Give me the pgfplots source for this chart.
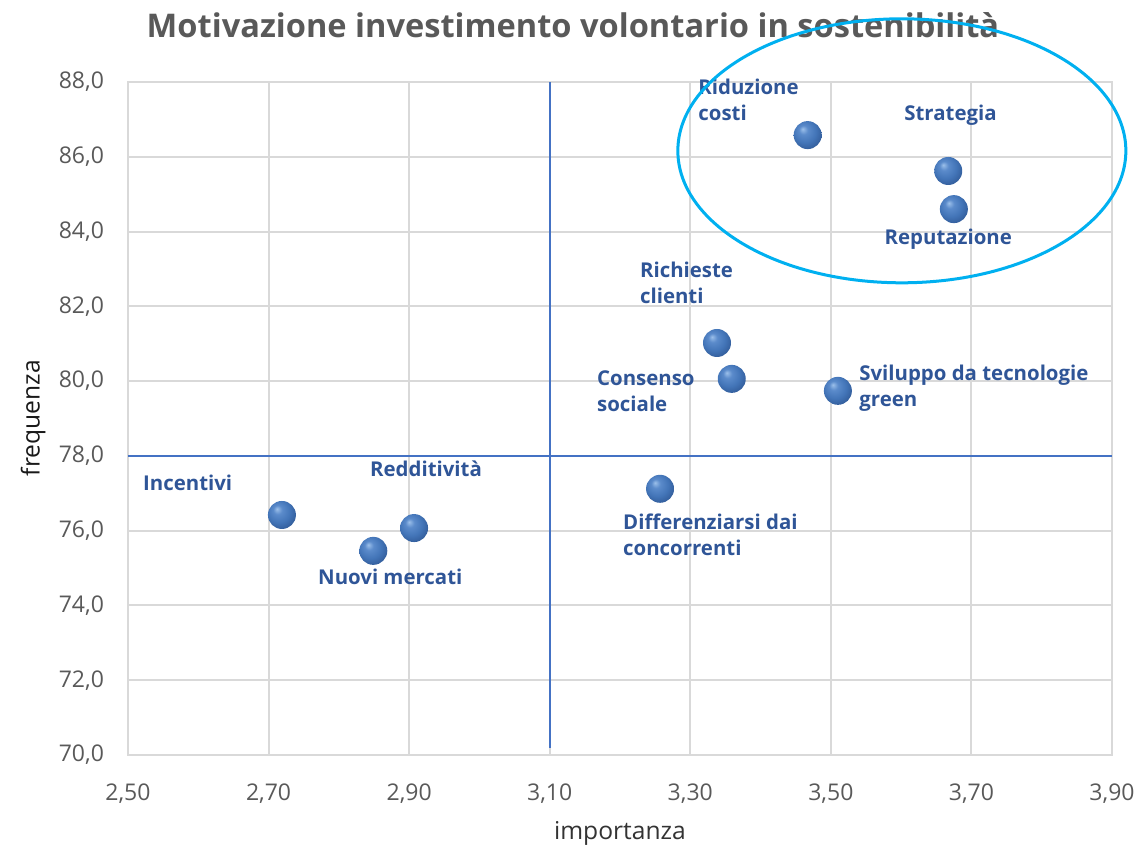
\documentclass[border=0pt]{standalone}
\usepackage{fontspec}
\setmainfont{Open Sans}
\usepackage{pgfplots}
\pgfplotsset{compat=1.18}
\definecolor{lblblue}{HTML}{2F5597}
\definecolor{qline}{HTML}{4472C4}
\definecolor{ell}{HTML}{00B0F0}
\definecolor{gridc}{HTML}{D9D9D9}
\definecolor{tickc}{HTML}{595959}
\definecolor{bhl}{HTML}{9CC0EA}
\definecolor{bmid}{HTML}{5B8BCB}
\definecolor{bmain}{HTML}{4375B8}
\definecolor{bdark}{HTML}{2D5591}
\definecolor{bedge}{HTML}{1F3F70}
\pgfdeclareradialshading{myball}{\pgfqpoint{-9bp}{11bp}}{%
  color(0bp)=(bhl); color(8bp)=(bmid); color(20bp)=(bmain); color(34bp)=(bdark); color(50bp)=(bedge)}
\pgfdeclareplotmark{sphere}{%
  \pgfpathcircle{\pgfpointorigin}{\pgfplotmarksize}%
  \pgfshadepath{myball}{0}%
  \pgfusepath{}}
\tikzset{lbl/.style={font=\bfseries\fontsize{10.2}{13}\selectfont, text=lblblue, align=left, inner sep=0pt, anchor=west}}
\pgfplotstableread{
x y
3.467 86.58
3.667 85.62
3.675 84.60
3.338 81.02
3.359 80.06
3.510 79.74
3.257 77.12
2.719 76.42
2.907 76.07
2.849 75.46
}\pts
\begin{document}
\begin{tikzpicture}
\useasboundingbox (-64pt,-48.5pt) rectangle (506pt,377.5pt);
\node[font=\bfseries\fontsize{16.3}{19}\selectfont, text=tickc] at (222.5pt,365pt) {Motivazione investimento volontario in sostenibilità};
\begin{axis}[
 at={(0,0)}, anchor=south west,
 scale only axis, width=492pt, height=336.5pt,
 xmin=2.5, xmax=3.9, ymin=70, ymax=88,
 xtick={2.5,2.7,2.9,3.1,3.3,3.5,3.7,3.9},
 ytick={70,72,74,76,78,80,82,84,86,88},
 grid=major, grid style={gridc, line width=1pt},
 axis line style={gridc, line width=1pt},
 major tick length=0pt,
 tick label style={font=\fontsize{11.5}{13}\selectfont, text=tickc},
 /pgf/number format/assume math mode=true,
 xticklabel style={/pgf/number format/fixed, /pgf/number format/fixed zerofill, /pgf/number format/precision=2, /pgf/number format/use comma, yshift=-11pt},
 yticklabel style={/pgf/number format/fixed, /pgf/number format/fixed zerofill, /pgf/number format/precision=1, /pgf/number format/use comma, xshift=-8.5pt},
 xlabel={importanza}, ylabel={frequenza},
 xlabel style={font=\fontsize{12.3}{14}\selectfont, text=black!80, at={(axis description cs:0.5,-0.116)}, anchor=center},
 ylabel style={font=\fontsize{12.3}{14}\selectfont, text=black!90, at={(axis description cs:-0.0965,0.5007)}, anchor=center},
 clip=false,
]
\addplot[qline, line width=1.2pt] coordinates {(3.1,70.2) (3.1,88)};
\addplot[qline, line width=1.2pt] coordinates {(2.5,78) (3.9,78)};
\addplot[only marks, mark=sphere, mark size=7pt] table[x=x,y=y] {\pts};
\node[lbl] at (axis cs:3.311,87.52) {Riduzione\\costi};
\node[lbl] at (axis cs:3.604,87.12) {Strategia};
\node[lbl] at (axis cs:3.576,83.80) {Reputazione};
\node[lbl] at (axis cs:3.228,82.62) {Richieste\\clienti};
\node[lbl] at (axis cs:3.167,79.74) {Consenso\\sociale};
\node[lbl] at (axis cs:3.540,79.82) {Sviluppo da tecnologie\\green};
\node[lbl] at (axis cs:3.204,75.88) {Differenziarsi dai\\concorrenti};
\node[lbl] at (axis cs:2.521,77.27) {Incentivi};
\node[lbl] at (axis cs:2.844,77.65) {Redditività};
\node[lbl] at (axis cs:2.770,74.76) {Nuovi mercati};
\draw[ell, line width=1.5pt] (axis cs:3.601,86.16) ellipse [x radius=112pt, y radius=66pt];
\end{axis}
\end{tikzpicture}
\end{document}
